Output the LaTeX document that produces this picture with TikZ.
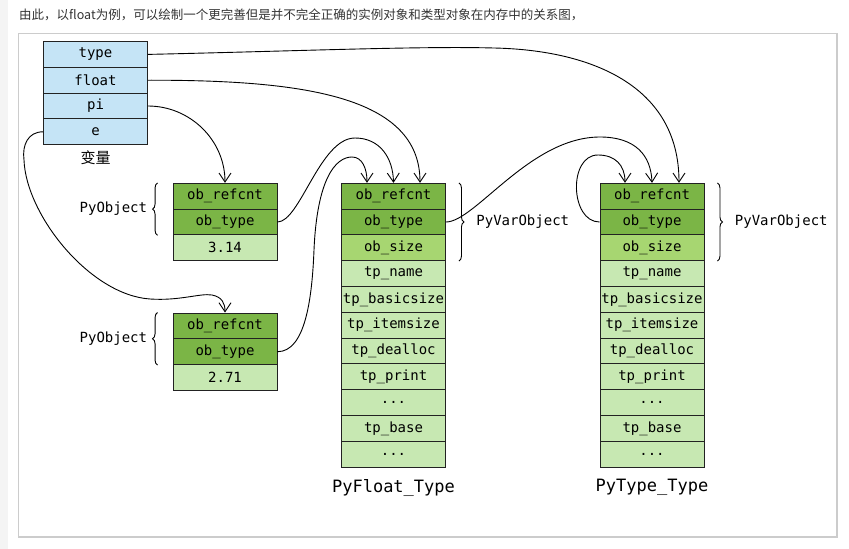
\documentclass[tikz,border=0pt]{standalone}
\usepackage{fontspec}
\newfontfamily\monofont{DejaVu Sans Mono}
\newfontfamily\cjkfont{Noto Sans CJK SC}
\usetikzlibrary{positioning,arrows.meta,decorations.pathreplacing}
\definecolor{varblue}{HTML}{C5E4F6}
\definecolor{hdgreen}{HTML}{7BB546}
\definecolor{szgreen}{HTML}{A7D671}
\definecolor{fdgreen}{HTML}{C7E8B2}
\definecolor{cellline}{HTML}{222222}
\definecolor{framegray}{HTML}{CCCCCC}
\definecolor{stripgray}{HTML}{F4F4F4}
\definecolor{captext}{HTML}{333333}
\tikzset{
  cell/.style = {draw=cellline, line width=0.9pt, minimum width=104pt,
    minimum height=25.8pt, inner sep=0pt,
    font=\monofont\fontsize{14}{14}\selectfont},
  varcell/.style = {cell, fill=varblue},
  hdcell/.style = {cell, fill=hdgreen},
  szcell/.style = {cell, fill=szgreen},
  fdcell/.style = {cell, fill=fdgreen},
  link/.style = {-{Straight Barb[length=9pt,width=12pt]}, line width=0.9pt},
  curly/.style = {decorate, decoration={brace, amplitude=5pt}, line width=0.9pt},
  bracetext/.style = {inner sep=0pt, font=\monofont\fontsize{14}{14}\selectfont},
  stacktitle/.style = {font=\monofont\fontsize{17}{17}\selectfont}
}
\newcommand\etcrow{...}
\newcommand\typefields{ob\_refcnt/hdcell, ob\_type/hdcell, ob\_size/szcell,
  tp\_name/fdcell, tp\_basicsize/fdcell, tp\_itemsize/fdcell,
  tp\_dealloc/fdcell, tp\_print/fdcell, \etcrow/fdcell, tp\_base/fdcell, \etcrow/fdcell}

\begin{document}
\begin{tikzpicture}[x=1pt,y=-1pt]
  \useasboundingbox (0,0) rectangle (849,549);
  \fill[stripgray] (0,0) rectangle (8,549);
  \node[anchor=west, inner sep=0pt, text=captext,
        font=\cjkfont\fontsize{12.5}{12.5}\selectfont] (caption) at (19,15)
    {由此，以float为例，可以绘制一个更完善但是并不完全正确的实例对象和类型对象在内存中的关系图，};
  \draw[framegray, line width=1.5pt] (18.5,33.5) rectangle (837,537);

  % variables
  \foreach \t [count=\i] in {type,float,pi,e}
    \node[varcell] (vr\i) at (95.5,{54.4+(\i-1)*25.8}) {\t};
  \node[below=2pt of vr4, font=\cjkfont\fontsize{15}{15}\selectfont] (vrname) {变量};

  % float objects
  \foreach \t/\s [count=\i] in {ob\_refcnt/hdcell, ob\_type/hdcell, 3.14/fdcell}
    \node[style=\s] (op\i) at (225,{196.2+(\i-1)*25.8}) {\t};
  \foreach \t/\s [count=\i] in {ob\_refcnt/hdcell, ob\_type/hdcell, 2.71/fdcell}
    \node[style=\s] (oe\i) at (225,{325.9+(\i-1)*25.8}) {\t};

  % type objects
  \foreach \t/\s [count=\i] in \typefields
    \node[style=\s] (ft\i) at (393.5,{196.2+(\i-1)*25.8}) {\t};
  \foreach \t/\s [count=\i] in \typefields
    \node[style=\s] (tt\i) at (652,{196.2+(\i-1)*25.8}) {\t};
  \node[stacktitle, below=8pt of ft11] (ftname) {PyFloat\_Type};
  \node[stacktitle, below=8pt of tt11] (ttname) {PyType\_Type};

  % braces
  \draw[curly] ([xshift=-15pt]op2.south west) -- ([xshift=-15pt]op1.north west)
    node[midway, left=10pt, bracetext] (poa) {PyObject};
  \draw[curly] ([xshift=-15pt]oe2.south west) -- ([xshift=-15pt]oe1.north west)
    node[midway, left=10pt, bracetext] (pob) {PyObject};
  \draw[curly] ([xshift=13pt]ft1.north east) -- ([xshift=13pt]ft3.south east)
    node[midway, right=17pt, bracetext] (pva) {PyVarObject};
  \draw[curly] ([xshift=13pt]tt1.north east) -- ([xshift=13pt]tt3.south east)
    node[midway, right=17pt, bracetext] (pvb) {PyVarObject};

  % references
  \draw[link] (vr1.east) .. controls (300,51) and (420,46) .. (494,48)
    .. controls (590,50) and (679,85) .. ([xshift=27pt]tt1.north);
  \draw[link] (vr2.east) .. controls (300,80) and (420,95) .. ([xshift=26.5pt]ft1.north);
  \draw[link] (vr3.east) .. controls (190,106) and (225,140) .. (op1.north);
  \draw[link] (vr4.west) .. controls (28,131.8) and (22,145) .. (24,160)
    .. controls (26,215) and (90,295) .. (150,299)
    .. controls (180,301) and (200,293) .. (212,295)
    .. controls (222,297) and (225,303) .. (oe1.north);
  \draw[link] (op2.east) .. controls (300,222) and (320,138) .. (355,138)
    .. controls (380,138) and (393,158) .. (ft1.north);
  \draw[link] (oe2.east) .. controls (305,351.7) and (312,300) .. (314,250)
    .. controls (317,180) and (335,157) .. (352,157)
    .. controls (362,157) and (367,168) .. ([xshift=-26.5pt]ft1.north);
  \draw[link] (ft2.east) .. controls (475,222) and (530,137) .. (600,137)
    .. controls (635,137) and (651,155) .. (tt1.north);
  \draw[link] (tt2.west) .. controls (570,222) and (568,155) .. (598,155)
    .. controls (615,155) and (625,165) .. ([xshift=-27pt]tt1.north);
\end{tikzpicture}
\end{document}
